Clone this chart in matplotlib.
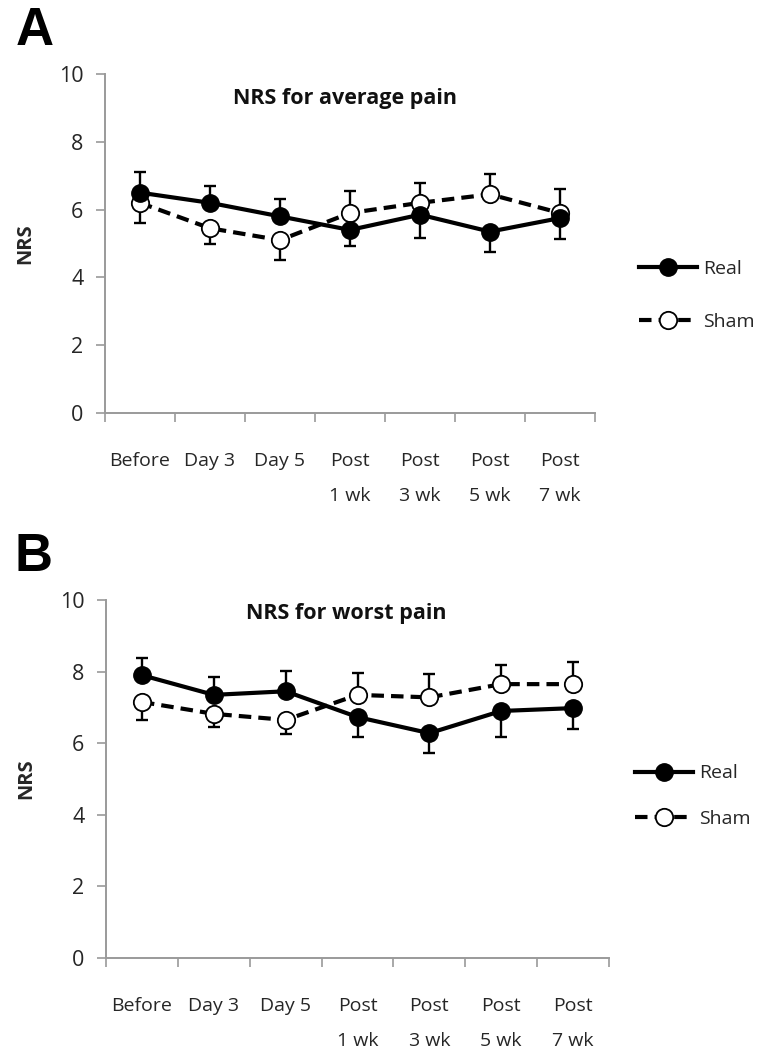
import matplotlib
matplotlib.use("Agg")
import matplotlib.pyplot as plt
import numpy as np

plt.rcParams['font.family'] = ['Open Sans', 'DejaVu Sans']

# Time points
categories = ["Before", "Day 3", "Day 5", "Post\n1 wk", "Post\n3 wk", "Post\n5 wk", "Post\n7 wk"]

# NRS for average pain
avg_real = [6.5, 6.2, 5.8, 5.4, 5.85, 5.35, 5.75]
avg_real_err = [0.62, 0.5, 0.5, 0.47, 0.7, 0.59, 0.62]
avg_sham = [6.2, 5.45, 5.1, 5.9, 6.2, 6.45, 5.9]
avg_sham_err = [0.59, 0.47, 0.6, 0.65, 0.58, 0.6, 0.7]

# NRS for worst pain
worst_real = [7.9, 7.35, 7.45, 6.73, 6.28, 6.9, 6.98]
worst_real_err = [0.48, 0.5, 0.56, 0.56, 0.56, 0.74, 0.58]
worst_sham = [7.15, 6.82, 6.65, 7.35, 7.28, 7.65, 7.65]
worst_sham_err = [0.5, 0.36, 0.4, 0.6, 0.66, 0.54, 0.62]

W, H = 758, 1053
fig = plt.figure(figsize=(W / 100, H / 100), dpi=100)

TXT = '#262626'
SPINE = '#9a9a9a'


def px_axes(l, r, t, b):
    return fig.add_axes([l / W, 1 - b / H, (r - l) / W, (b - t) / H])


def one_sided(vals, other, err):
    vals, other, err = map(np.asarray, (vals, other, err))
    up = np.where(vals >= other, err, 0.0)
    lo = np.where(vals < other, err, 0.0)
    return np.vstack([lo, up])


def panel(ax, real, real_err, sham, sham_err, title, title_xy):
    x = np.arange(len(categories))
    ax.errorbar(x, real, yerr=one_sided(real, sham, real_err), fmt='none',
                ecolor='black', elinewidth=1.7, capsize=4, capthick=1.7, zorder=2)
    ax.errorbar(x, sham, yerr=one_sided(sham, real, sham_err), fmt='none',
                ecolor='black', elinewidth=1.7, capsize=4, capthick=1.7, zorder=2)
    l1, = ax.plot(x, real, '-', color='black', lw=3.0, marker='o', ms=12.5,
                  mfc='black', mec='black', label='Real', zorder=4)
    l2, = ax.plot(x, sham, '--', color='black', lw=3.0, dashes=(3.0, 1.7),
                  marker='o', ms=12.5, mfc='white', mec='black', mew=1.3,
                  label='Sham', zorder=3)
    ax.set_xlim(-0.5, len(categories) - 0.5)
    ax.set_ylim(0, 10)
    ax.set_yticks(np.arange(0, 11, 2))
    ax.set_xticks(np.arange(-0.5, len(categories), 1.0))
    ax.set_xticklabels([])
    ax.set_xticks(x, minor=True)
    ax.set_xticklabels(categories, minor=True)
    ax.tick_params(axis='x', which='major', direction='out', length=6.5,
                   width=1.2, color=SPINE)
    ax.tick_params(axis='x', which='minor', length=0, pad=28,
                   labelsize=14, labelcolor=TXT)
    ax.tick_params(axis='y', direction='out', length=6.5, width=1.2,
                   color=SPINE, pad=9, labelsize=15.5, labelcolor=TXT)
    for lab in ax.get_xticklabels(minor=True):
        lab.set_linespacing(2.2)
    for s in ('top', 'right'):
        ax.spines[s].set_visible(False)
    for s in ('left', 'bottom'):
        ax.spines[s].set_color(SPINE)
        ax.spines[s].set_linewidth(1.4)
    ax.set_ylabel('NRS', fontsize=14.5, fontweight='bold', color=TXT, labelpad=17)
    ax.text(title_xy[0], title_xy[1], title, transform=ax.transAxes,
            ha='center', va='center', fontsize=15.5, fontweight='bold', color='#111111')
    return l1, l2


axA = px_axes(105, 595, 74, 413)
hA = panel(axA, avg_real, avg_real_err, avg_sham, avg_sham_err,
           'NRS for average pain', (0.49, 0.929))
axA.legend(handles=hA, loc='center left', bbox_to_anchor=(629 / W, 1 - 295 / H),
           bbox_transform=fig.transFigure, frameon=False, fontsize=14,
           handlelength=3.0, handletextpad=0.3, labelspacing=1.8, borderpad=0,
           labelcolor=TXT)

axB = px_axes(106, 609, 600, 958)
hB = panel(axB, worst_real, worst_real_err, worst_sham, worst_sham_err,
           'NRS for worst pain', (0.477, 0.961))
axB.legend(handles=hB, loc='center left', bbox_to_anchor=(625 / W, 1 - 796 / H),
           bbox_transform=fig.transFigure, frameon=False, fontsize=14,
           handlelength=3.0, handletextpad=0.3, labelspacing=1.4, borderpad=0,
           labelcolor=TXT)

fig.text(16 / W, 1 - 31 / H, 'A', fontsize=38, fontweight='bold',
         family='Liberation Sans', ha='left', va='center')
fig.text(14 / W, 1 - 557 / H, 'B', fontsize=38, fontweight='bold',
         family='Liberation Sans', ha='left', va='center')

fig.savefig('out.png', dpi=100, facecolor='white')
